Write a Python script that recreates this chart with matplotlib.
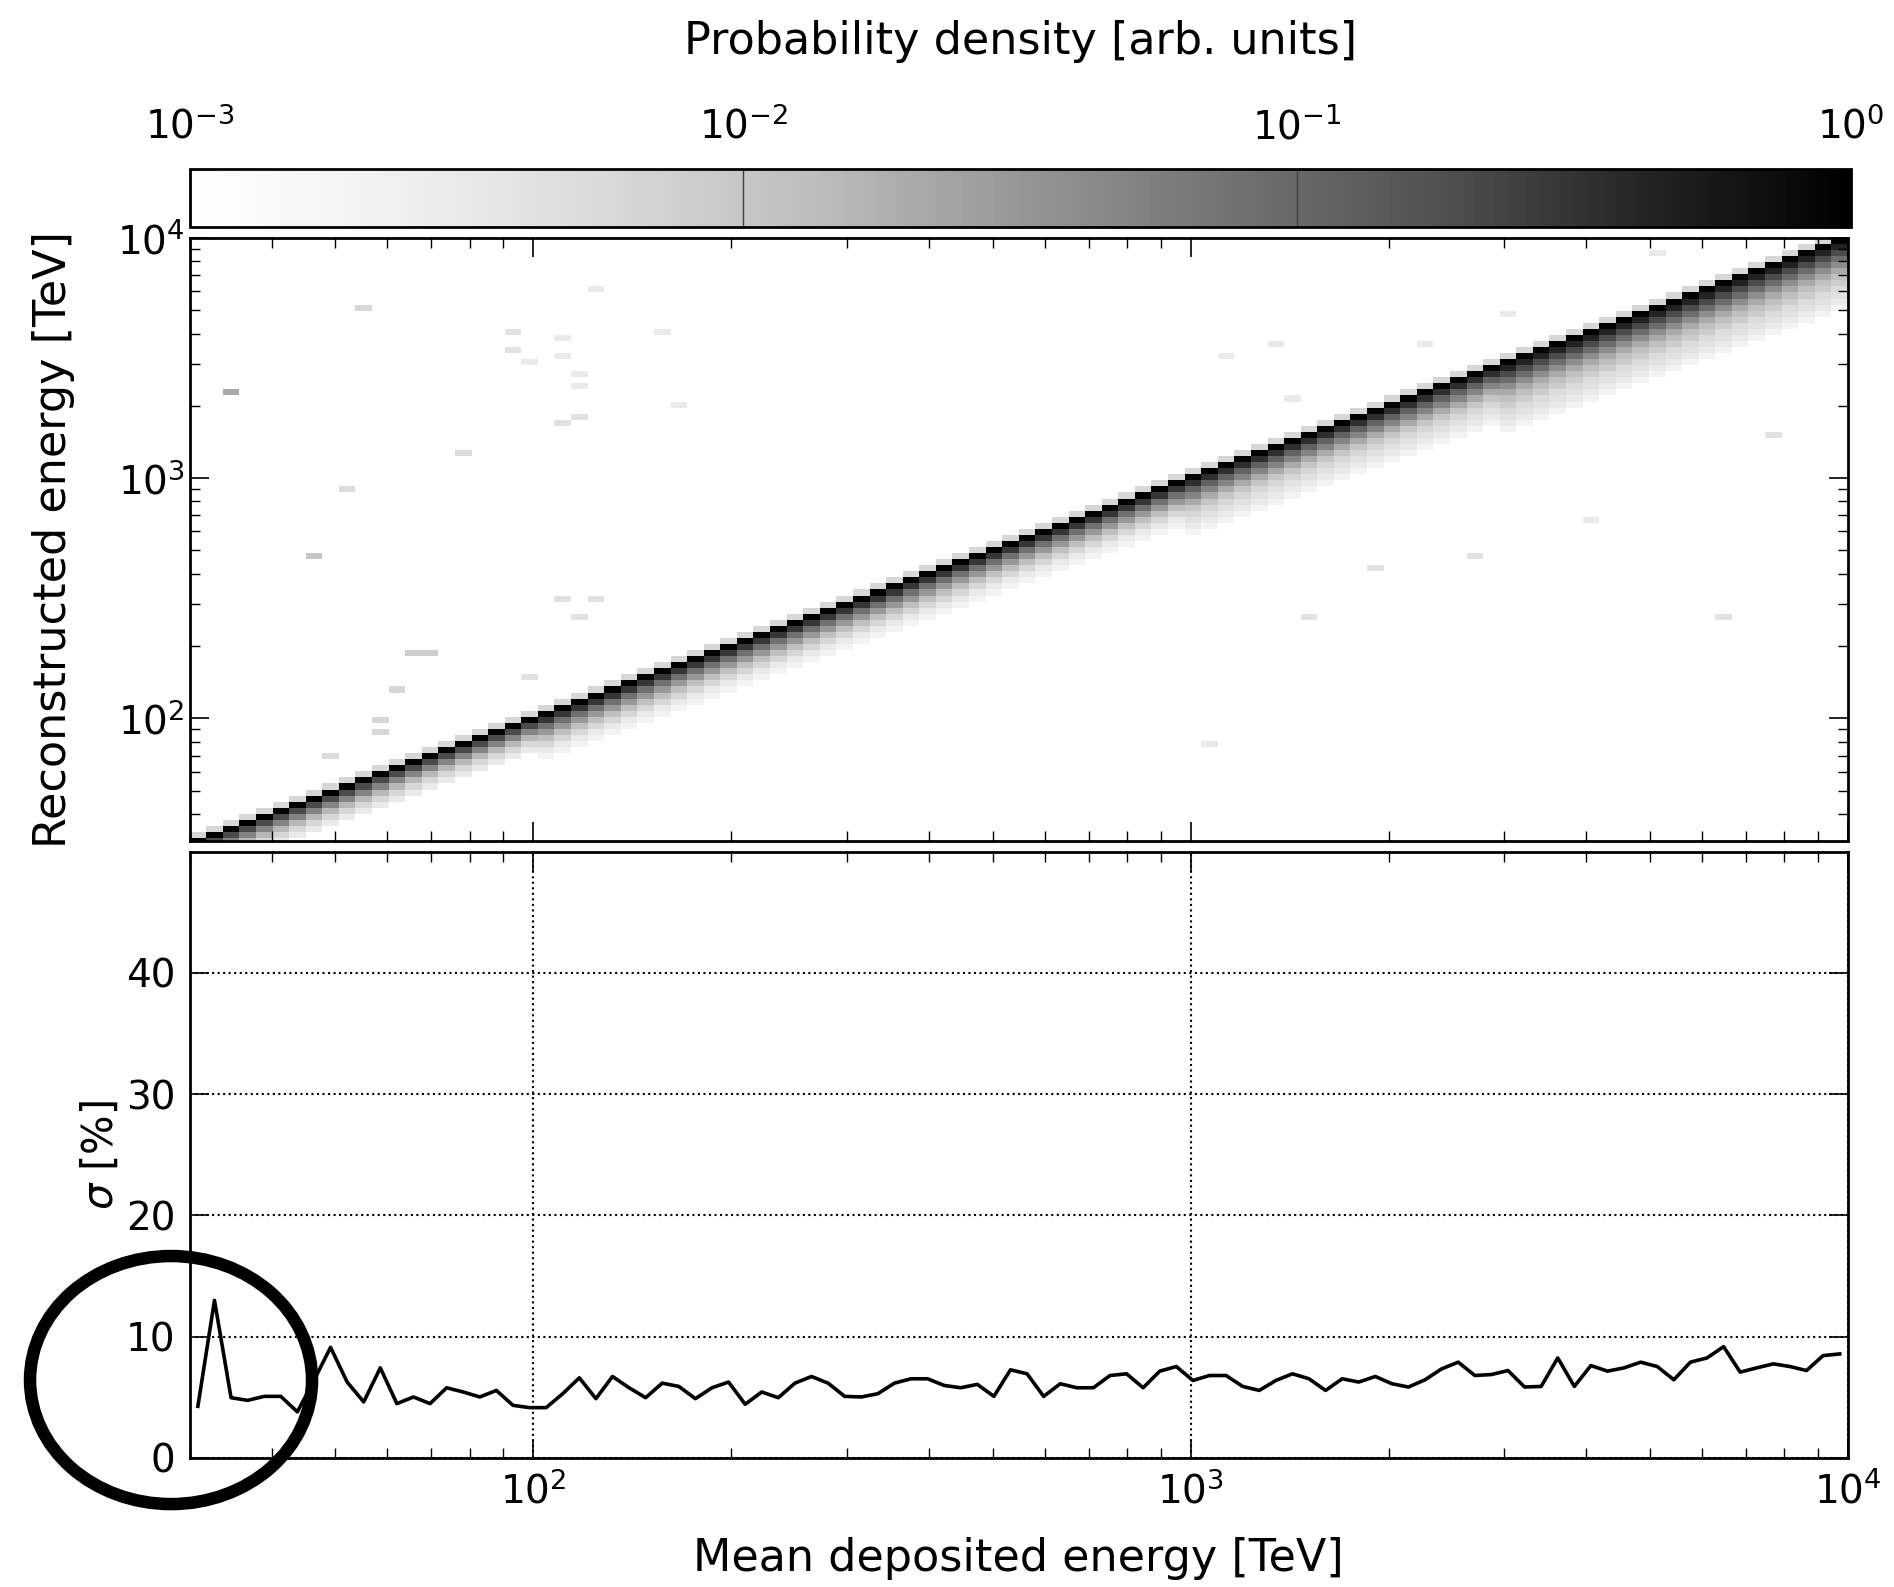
import matplotlib
matplotlib.use("Agg")
import matplotlib.pyplot as plt
import numpy as np
from matplotlib.colors import LogNorm
from matplotlib.patches import Ellipse

plt.rcParams["font.family"] = "DejaVu Sans"

E_MIN = 30.0
E_MAX = 1.0e4
N_BINS = 100

# resolution per energy bin [%]
SIGMA_PCT = [
    4.26, 13.0, 4.97, 4.75, 5.08, 5.08, 3.80, 6.40, 9.12, 6.26,
    4.62, 7.43, 4.48, 5.03, 4.48, 5.79, 5.44, 5.03, 5.57, 4.34,
    4.15, 4.15, 5.30, 6.61, 4.89, 6.72, 5.79, 4.97, 6.17, 5.90,
    4.89, 5.79, 6.26, 4.43, 5.44, 4.97, 6.17, 6.72, 6.17, 5.08,
    5.03, 5.30, 6.17, 6.53, 6.53, 5.98, 5.79, 6.07, 5.08, 7.27,
    6.94, 5.08, 6.12, 5.79, 5.79, 6.80, 6.94, 5.79, 7.16, 7.54,
    6.39, 6.80, 6.80, 5.90, 5.57, 6.39, 6.94, 6.53, 5.57, 6.53,
    6.26, 6.72, 6.12, 5.85, 6.45, 7.35, 7.90, 6.80, 6.88, 7.21,
    5.85, 5.90, 8.25, 5.90, 7.62, 7.16, 7.43, 7.90, 7.54, 6.45,
    7.90, 8.25, 9.18, 7.08, 7.43, 7.76, 7.54, 7.21, 8.44, 8.58,
]

# column profile below the diagonal (diagonal cell first), per energy range
TAIL_30_100 = [1.0, 0.2, 0.05, 0.015, 0.006, 0.003]
TAIL_100_1000 = [1.0, 0.3, 0.08, 0.03, 0.012, 0.006, 0.003, 0.002]
TAIL_1000_3000 = [1.0, 0.35, 0.12, 0.05, 0.02, 0.01, 0.006, 0.004, 0.003, 0.002]
TAIL_3000_10000 = [1.0, 0.45, 0.2, 0.09, 0.04, 0.02, 0.012, 0.008, 0.005, 0.004,
                   0.003, 0.002]
ABOVE_DIAG = 0.006

# isolated cells off the band
OUT_EDEP = [34.8, 55.2, 46.7, 52.5, 78.7, 93.3, 93.3, 98.9, 110.7, 110.7,
            117.8, 117.8, 117.8, 110.7, 124.2, 156.7, 165.6, 67.6, 70.8, 61.7,
            58.6, 58.6, 109.6, 123.0, 117.5, 97.7, 49.4, 1125, 1334, 1419,
            1507, 1897, 1067, 6486, 4074, 2692, 7727, 3020, 2265, 5129]
OUT_EREC = [2286, 5129, 479, 902, 1271, 4074, 3467, 3062, 3846, 3236,
            2710, 2421, 1820, 1698, 6166, 4074, 2042, 186.2, 182.0, 131.8,
            97.7, 89.1, 316, 316, 269, 151, 69.2, 3236, 3631, 2138,
            269, 427, 79.4, 269, 676, 479, 1514, 4898, 3631, 8511]
OUT_VAL = [0.02, 0.006, 0.01, 0.005, 0.005, 0.004, 0.004, 0.003, 0.003, 0.003,
           0.003, 0.003, 0.004, 0.004, 0.003, 0.003, 0.003, 0.008, 0.008, 0.006,
           0.006, 0.006, 0.004, 0.004, 0.004, 0.004, 0.005, 0.003, 0.003, 0.003,
           0.004, 0.004, 0.003, 0.004, 0.003, 0.004, 0.004, 0.003, 0.003, 0.003]

edges = np.logspace(np.log10(E_MIN), np.log10(E_MAX), N_BINS + 1)
centers = np.sqrt(edges[:-1] * edges[1:])

H = np.zeros((N_BINS, N_BINS))  # rows: reconstructed, cols: deposited
for i, e in enumerate(centers):
    if e < 100:
        tail = TAIL_30_100
    elif e < 1000:
        tail = TAIL_100_1000
    elif e < 3000:
        tail = TAIL_1000_3000
    else:
        tail = TAIL_3000_10000
    for k, v in enumerate(tail):
        if i - k >= 0:
            H[i - k, i] = v
    if i + 1 < N_BINS:
        H[i + 1, i] = ABOVE_DIAG
for ed, er, v in zip(OUT_EDEP, OUT_EREC, OUT_VAL):
    i = np.searchsorted(edges, ed) - 1
    j = np.searchsorted(edges, er) - 1
    H[j, i] = max(H[j, i], v)

H = np.ma.masked_where(H <= 0, H)

fig = plt.figure(figsize=(18.94, 15.87), dpi=100)
cax = fig.add_axes([0.1001, 0.857, 0.877, 0.0365])
ax1 = fig.add_axes([0.1001, 0.4703, 0.8756, 0.3798])
ax2 = fig.add_axes([0.1001, 0.0813, 0.8756, 0.3821])

FS = 28   # tick labels
LFS = 32  # axis labels

mesh = ax1.pcolormesh(edges, edges, H, cmap="Greys", norm=LogNorm(1e-3, 1.0))
ax1.set_xscale("log")
ax1.set_yscale("log")
ax1.set_xlim(E_MIN, E_MAX)
ax1.set_ylim(31, E_MAX)
ax1.set_ylabel("Reconstructed energy [TeV]", fontsize=LFS, labelpad=30)
ax1.tick_params(which="both", direction="in", top=True, right=True,
                labelbottom=False, labelsize=FS)
ax1.tick_params(which="major", length=14, width=1.2)
ax1.tick_params(which="minor", length=7, width=1)

ax2.semilogx(centers, SIGMA_PCT, color="black", lw=2.6)
ax2.set_xlim(E_MIN, E_MAX)
ax2.set_ylim(0, 50)
ax2.set_yticks([0, 10, 20, 30, 40])
ax2.grid(True, which="major", linestyle=":", color="black", lw=1.5)
ax2.set_xlabel("Mean deposited energy [TeV]", fontsize=LFS, labelpad=18)
ax2.set_ylabel(r"$\sigma$ [%]", fontsize=30, labelpad=3)
ax2.tick_params(which="both", direction="in", top=True, right=True,
                labelsize=FS, pad=10)
ax2.tick_params(which="major", length=14, width=1.2)
ax2.tick_params(which="minor", length=7, width=1)

for ax in (ax1, ax2, cax):
    for sp in ax.spines.values():
        sp.set_linewidth(2)

cb = fig.colorbar(mesh, cax=cax, orientation="horizontal")
cax.xaxis.set_ticks_position("top")
cax.xaxis.set_label_position("top")
cb.set_ticks([1e-3, 1e-2, 1e-1, 1.0])
cax.minorticks_off()
cax.tick_params(direction="in", length=42, width=1, color="0.25",
                labelsize=FS, pad=16)
cb.set_label("Probability density [arb. units]", fontsize=LFS, labelpad=38)
cb.outline.set_linewidth(2)

circle = Ellipse((0.0903, 0.1304), 0.1489, 0.1563, transform=fig.transFigure,
                 fill=False, edgecolor="black", lw=9, zorder=20, clip_on=False)
fig.add_artist(circle)

fig.savefig("out.png", dpi=100)
